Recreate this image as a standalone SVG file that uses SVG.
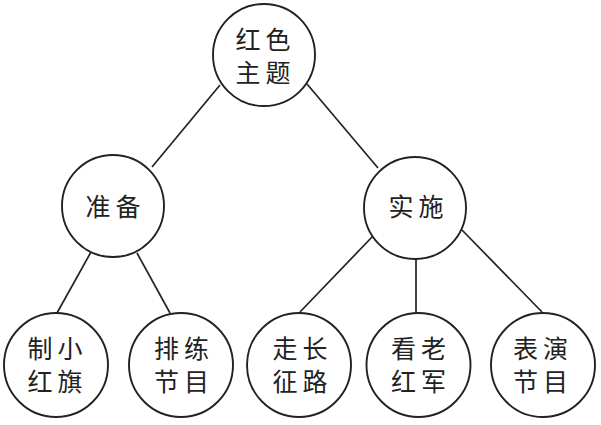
<svg xmlns="http://www.w3.org/2000/svg" width="601" height="425" viewBox="0 0 601 425">
<style>
.n circle{fill:#fff;stroke:#222;stroke-width:1.9}
.n text{font-family:"Noto Sans CJK SC","Noto Sans",sans-serif;font-size:25px;fill:#222;text-anchor:middle;letter-spacing:5px}
#edges line{stroke:#222;stroke-width:1.7}
</style>
<rect width="601" height="425" fill="#fff"/>
<g id="edges">
<line x1="220" y1="85" x2="152" y2="167"/>
<line x1="307" y1="84" x2="378" y2="168"/>
<line x1="91" y1="252" x2="57" y2="313"/>
<line x1="137" y1="253" x2="170" y2="313"/>
<line x1="373" y1="236" x2="300" y2="312"/>
<line x1="416" y1="259" x2="416" y2="313"/>
<line x1="462" y1="230" x2="542" y2="312"/>
</g>
<g id="root" class="n"><circle cx="264" cy="55" r="51"/><text x="265.5" y="49">红色</text><text x="265.5" y="82">主题</text></g>
<g id="prep" class="n"><circle cx="113" cy="206" r="51"/><text x="115.5" y="216">准备</text></g>
<g id="impl" class="n"><circle cx="415" cy="208" r="51"/><text x="418.5" y="216">实施</text></g>
<g id="n1" class="n"><circle cx="56" cy="365" r="52"/><text x="57.5" y="358">制小</text><text x="57.5" y="391">红旗</text></g>
<g id="n2" class="n"><circle cx="181" cy="365" r="52"/><text x="184" y="358">排练</text><text x="184" y="391">节目</text></g>
<g id="n3" class="n"><circle cx="299" cy="365" r="52"/><text x="302.5" y="358">走长</text><text x="302.5" y="391">征路</text></g>
<g id="n4" class="n"><circle cx="418.5" cy="365" r="52"/><text x="421" y="358">看老</text><text x="421" y="391">红军</text></g>
<g id="n5" class="n"><circle cx="543" cy="365" r="52"/><text x="543" y="358">表演</text><text x="543" y="391">节目</text></g>
</svg>
